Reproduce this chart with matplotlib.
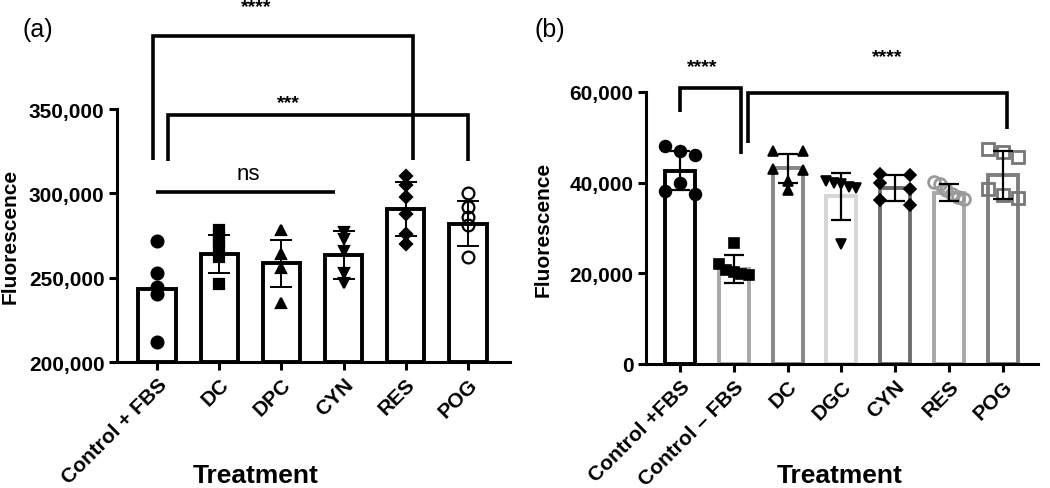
import numpy as np
import matplotlib
matplotlib.use("Agg")
import matplotlib.pyplot as plt
from matplotlib.ticker import FuncFormatter

plt.rcParams['font.family'] = ['Liberation Sans', 'DejaVu Sans']

# ---------------- Panel (a) data ----------------
cats_a = ["Control + FBS", "DC", "DPC", "CYN", "RES", "POG"]
means_a = [243500, 264000, 258500, 263500, 290500, 282000]
sd_a = [np.nan, 11500, 14000, 14000, 16000, 13500]
pts_a = {
    "Control + FBS": [272000, 253000, 244500, 240500, 212000],
    "DC": [278000, 275000, 271000, 267000, 262000, 246000],
    "DPC": [278000, 264000, 256000, 235000],
    "CYN": [277000, 273000, 266000, 253000, 247000],
    "RES": [310000, 305000, 298000, 288000, 276000, 270000],
    "POG": [300000, 292000, 286000, 281000, 262000],
}
yticks_a = [200000, 250000, 300000, 350000]

# ---------------- Panel (b) data ----------------
cats_b = ["Control +FBS", "Control \u2013 FBS", "DC", "DGC", "CYN", "RES", "POG"]
means_b = [42600, 21000, 43200, 37000, 38800, 37800, 41700]
sd_b = [4300, 3100, 3200, 5200, 2900, 1800, 5300]
pts_b = {
    "Control +FBS": [48000, 47000, 46200, 40000, 38200, 37400],
    "Control \u2013 FBS": [26800, 22000, 20800, 20300, 19800, 19600],
    "DC": [46900, 46900, 43000, 42800, 40300, 38300],
    "DGC": [40300, 40000, 39600, 39000, 38800, 26500],
    "CYN": [41900, 41800, 40000, 38600, 36200, 35000],
    "RES": [40200, 39800, 38400, 37600, 36800, 36300],
    "POG": [47500, 46800, 45600, 38500, 37200, 36600],
}
yticks_b = [0, 20000, 40000, 60000]

# styles
edge_b = ["#000000", "#a8a8a8", "#878787", "#d6d6d6", "#6e6e6e", "#a8a8a8", "#7e7e7e"]
mk_a = ["o", "s", "^", "v", "D", "o"]
mfill_a = ["k", "k", "k", "k", "k", "none"]
mk_b = ["o", "s", "^", "v", "D", "o", "s"]
mfill_b = ["k", "k", "k", "k", "k", "none", "none"]
medge_b = ["k", "k", "k", "k", "k", "#9a9a9a", "#777777"]
msize_a = [8.5, 7.5, 7.5, 7.5, 6.5, 8.5]
msize_b = [8.5, 7, 7.5, 7.5, 6.5, 8.5, 9]

TICKFS = 15
W, H = 1050, 489
fig = plt.figure(figsize=(W / 100, H / 100), dpi=100)

def ax_rect(l, r, b, t):
    return [l / W, 1 - b / H, (r - l) / W, (b - t) / H]

ax1 = fig.add_axes(ax_rect(117, 510, 363, 110))
ax2 = fig.add_axes(ax_rect(646, 1038, 365, 93))

def swarm(vals, tol, spread):
    vals = np.asarray(vals, float)
    order = np.argsort(-vals)
    offs = np.zeros(len(vals))
    groups = []
    cur = [order[0]]
    for i in order[1:]:
        if abs(vals[i] - vals[cur[-1]]) < tol:
            cur.append(i)
        else:
            groups.append(cur)
            cur = [i]
    groups.append(cur)
    for g in groups:
        n = len(g)
        if n > 1:
            o = np.linspace(-spread, spread, n)
            for k, idx in enumerate(g):
                offs[idx] = o[k]
    return offs

def style_axes(ax, yticks, lim, xlim, cats):
    ax.set_ylim(*lim)
    ax.set_xlim(*xlim)
    ax.set_yticks(yticks)
    ax.yaxis.set_major_formatter(FuncFormatter(lambda v, p: f"{int(v):,}"))
    ax.set_xticks(range(len(cats)))
    ax.set_xticklabels(cats, rotation=45, ha='right', va='top',
                       rotation_mode='anchor', fontsize=TICKFS, fontweight='bold')
    for lab in ax.get_yticklabels():
        lab.set_fontsize(TICKFS)
        lab.set_fontweight('bold')
    ax.spines['top'].set_visible(False)
    ax.spines['right'].set_visible(False)
    for s in ['left', 'bottom']:
        ax.spines[s].set_linewidth(2.2)
    ax.tick_params(axis='both', width=2.2, length=6, direction='out', pad=3)
    ax.patch.set_alpha(0)

def bracket(ax, x1, x2, y, y1, y2, lw=2.6):
    ax.plot([x1, x1, x2, x2], [y1, y, y, y2], color='k', lw=lw,
            clip_on=False, solid_joinstyle='miter', solid_capstyle='butt', zorder=6)

# ---------- Panel (a) ----------
x_a = np.arange(len(cats_a))
ax1.bar(x_a, [m - 200000 for m in means_a], bottom=200000, width=0.6,
        facecolor='white', edgecolor='k', linewidth=2.8, zorder=2)
for i, c in enumerate(cats_a):
    v = pts_a[c]
    ax1.plot(np.full(len(v), x_a[i]), v, linestyle='none', marker=mk_a[i],
             markersize=msize_a[i], markerfacecolor=mfill_a[i],
             markeredgecolor='k', markeredgewidth=1.6, zorder=3, clip_on=False)
    if not np.isnan(sd_a[i]):
        ax1.errorbar(x_a[i], means_a[i], yerr=sd_a[i], color='k', lw=1.4,
                     capsize=8, capthick=1.4, zorder=4)
style_axes(ax1, yticks_a, (200000, 350000), (-0.643, 5.675), cats_a)
ax1.set_ylabel("Fluorescence", fontsize=15, fontweight='bold')
ax1.yaxis.set_label_coords(-0.247, 0.5)
ax1.set_xlabel("Treatment", fontsize=19, fontweight='bold')
ax1.xaxis.set_label_coords(0.354, -0.40)

bracket(ax1, -0.06, 4.12, 393000, 320000, 320000)
ax1.text(1.59, 411000, "****", ha='center', va='center', fontsize=14,
         fontweight='bold', clip_on=False)
bracket(ax1, 0.18, 5.0, 346400, 319000, 319000)
ax1.text(2.11, 354000, "***", ha='center', va='center', fontsize=14,
         fontweight='bold', clip_on=False)
ax1.plot([-0.02, 2.86], [300600, 300600], color='k', lw=2.6, zorder=6,
         solid_capstyle='butt')
ax1.text(1.46, 312000, "ns", ha='center', va='center', fontsize=16)

# ---------- Panel (b) ----------
x_b = np.arange(len(cats_b))
ax2.bar(x_b, means_b, width=0.56, facecolor='white', edgecolor=edge_b,
        linewidth=2.8, zorder=2)
for i, c in enumerate(cats_b):
    v = pts_b[c]
    offs = swarm(v, 1800, 0.28)
    ax2.plot(x_b[i] + offs, v, linestyle='none', marker=mk_b[i],
             markersize=msize_b[i], markerfacecolor=mfill_b[i],
             markeredgecolor=medge_b[i], markeredgewidth=2.0 if mfill_b[i] == 'none' else 1.2,
             zorder=3)
    ax2.errorbar(x_b[i], means_b[i], yerr=sd_b[i], color='k', lw=1.6,
                 capsize=7, capthick=1.6, zorder=4)
style_axes(ax2, yticks_b, (0, 60000), (-0.632, 6.654), cats_b)
ax2.set_ylabel("Fluorescence", fontsize=15, fontweight='bold')
ax2.yaxis.set_label_coords(-0.237, 0.5)
ax2.set_xlabel("Treatment", fontsize=19, fontweight='bold')
ax2.xaxis.set_label_coords(0.495, -0.365)

bracket(ax2, 0.0, 1.13, 60800, 55600, 46300)
ax2.text(0.41, 65700, "****", ha='center', va='center', fontsize=14,
         fontweight='bold', clip_on=False)
bracket(ax2, 1.26, 6.08, 59800, 48700, 51800)
ax2.text(3.85, 67900, "****", ha='center', va='center', fontsize=14,
         fontweight='bold', clip_on=False)

fig.text(22 / W, 1 - 30 / H, "(a)", fontsize=18, va='center', ha='left')
fig.text(535 / W, 1 - 30 / H, "(b)", fontsize=18, va='center', ha='left')

fig.savefig("out.png", dpi=100)
